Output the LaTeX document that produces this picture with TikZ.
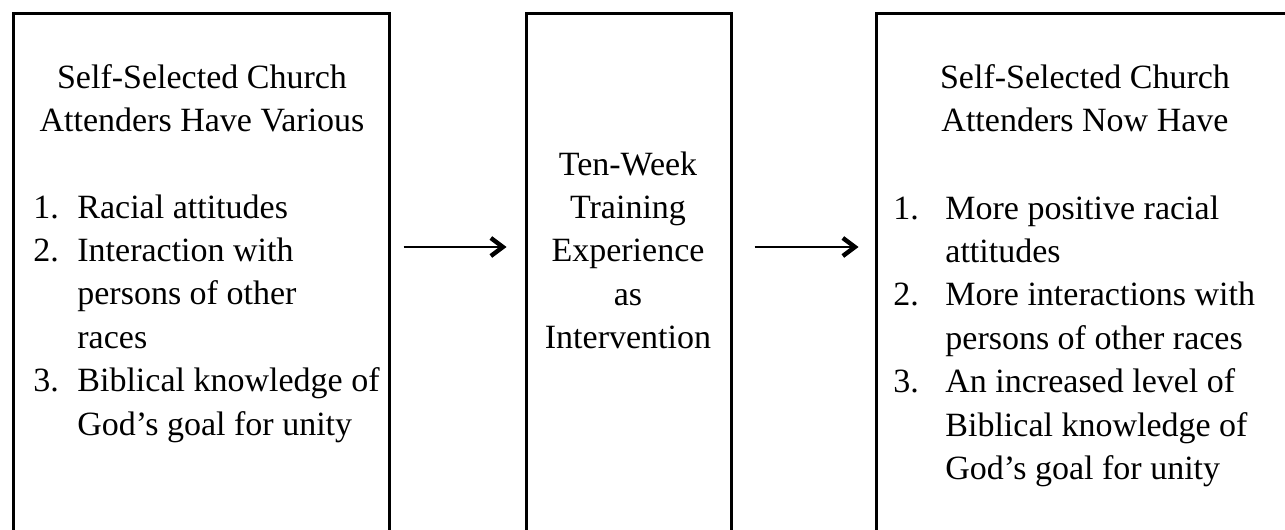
\documentclass[tikz,border=0pt]{standalone}
\usepackage{fontspec}
\setmainfont{Liberation Serif}
\usetikzlibrary{arrows.meta,fit}

\tikzset{
	panel/.style={draw, line width=1.5pt, inner sep=0pt},
	words/.style={inner sep=0pt, anchor=base, font=\fontsize{17}{21.7}\selectfont},
	flow/.style={-{Straight Barb[length=6pt,width=9pt,line width=2.2pt]}, line width=1.4pt}
}

\begin{document}
\begin{tikzpicture}[x=0.5pt, y=-0.5pt]
	\path [use as bounding box, clip] (0, 0) rectangle (1285, 530);

	% boxes, open at the bottom of the page
	\node (before) [panel, fit={(13, 13) (389, 560)}] {};
	\node (training) [panel, fit={(526, 13) (731, 560)}] {};
	\node (after) [panel, fit={(876, 13) (1296, 560)}] {};
	\coordinate (midrow) at (0, 247);

	\node (beforehead) at (202, 88) [words] {\begin{tabular}[t]{@{}c@{}}Self-Selected Church\\Attenders Have Various\end{tabular}};
	\node (beforelist) at (33, 218) [words, anchor=base west] {\begin{tabular}[t]{@{}p{22pt}@{}l@{}}
		1. & Racial attitudes\\
		2. & Interaction with\\
		   & persons of other\\
		   & races\\
		3. & Biblical knowledge of\\
		   & God's goal for unity
	\end{tabular}};

	\node (trainingtext) at (628, 175) [words] {\begin{tabular}[t]{@{}c@{}}Ten-Week\\Training\\Experience\\as\\Intervention\end{tabular}};

	\node (afterhead) at (1085, 88) [words] {\begin{tabular}[t]{@{}c@{}}Self-Selected Church\\Attenders Now Have\end{tabular}};
	\node (afterlist) at (893, 219) [words, anchor=base west] {\begin{tabular}[t]{@{}p{26pt}@{}l@{}}
		1. & More positive racial\\
		   & attitudes\\
		2. & More interactions with\\
		   & persons of other races\\
		3. & An increased level of\\
		   & Biblical knowledge of\\
		   & God's goal for unity
	\end{tabular}};

	\draw [flow, shorten <=6.5pt, shorten >=9pt] (before.east |- midrow) -- (training.west |- midrow);
	\draw [flow, shorten <=11pt, shorten >=8pt] (training.east |- midrow) -- (after.west |- midrow);
\end{tikzpicture}
\end{document}
